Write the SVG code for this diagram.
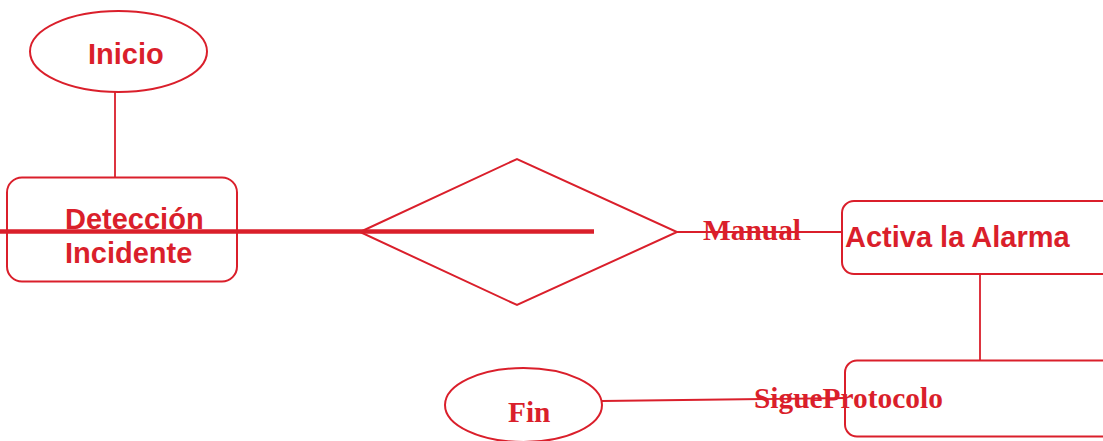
<svg xmlns="http://www.w3.org/2000/svg" width="1103" height="441" viewBox="0 0 1103 441">
  <style>
    .shape { fill: #ffffff; stroke: #da1f2b; stroke-width: 2; }
    .link { fill: none; stroke: #da1f2b; stroke-width: 1.8; }
    .sans { font-family: "Liberation Sans", Arial, sans-serif; font-weight: bold; font-size: 29px; fill: #da1f2b; }
    .serif { font-family: "Liberation Serif", "Times New Roman", serif; font-weight: bold; font-size: 29.4px; fill: #da1f2b; }
  </style>
  <rect width="1103" height="441" fill="#ffffff"/>

  <!-- connectors -->
  <g id="connectors">
    <line class="link" x1="115" y1="92" x2="115" y2="178"/>
    <line class="link" x1="677" y1="232" x2="843" y2="232"/>
    <line class="link" x1="980" y1="274" x2="980" y2="361"/>
    <line class="link" x1="602" y1="401" x2="846" y2="398"/>
  </g>

  <g id="inicio">
    <ellipse class="shape" cx="118.5" cy="51.5" rx="88.5" ry="40.5"/>
    <text class="sans" x="88" y="64">Inicio</text>
  </g>

  <g id="deteccion">
    <rect class="shape" x="7" y="177.5" width="230" height="104" rx="15"/>
    <text class="sans" x="65" y="229">Detección</text>
    <text class="sans" x="65" y="263">Incidente</text>
  </g>

  <g id="decision">
    <polygon class="shape" points="360,232 517,159 677,232 517,305"/>
  </g>

  <!-- heavy bar across the first step and into the decision -->
  <line x1="0" y1="231.5" x2="594" y2="231.5" stroke="#da1f2b" stroke-width="4.5"/>

  <g id="manual-label">
    <text class="serif" x="703" y="240">Manual</text>
  </g>

  <g id="activa">
    <rect class="shape" x="842" y="201" width="280" height="73" rx="12"/>
    <text class="sans" x="845" y="247">Activa la Alarma</text>
  </g>

  <g id="protocolo">
    <rect class="shape" x="845" y="360.5" width="280" height="76" rx="12"/>
  </g>

  <g id="protocolo-label">
    <text class="serif" x="754" y="408">SigueProtocolo</text>
  </g>

  <g id="fin">
    <ellipse class="shape" cx="523.5" cy="405" rx="78.5" ry="37"/>
    <text class="serif" x="508" y="422">Fin</text>
  </g>
</svg>
